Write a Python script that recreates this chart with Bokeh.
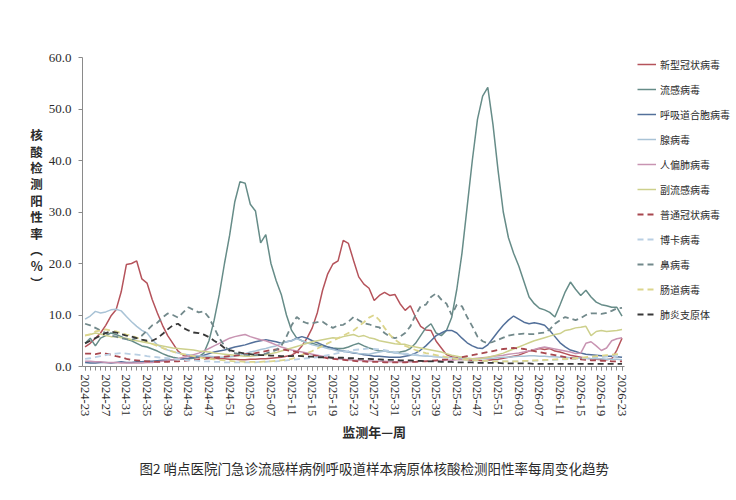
import math
from bokeh.plotting import figure
from bokeh.models import (Range1d, FixedTicker, NumeralTickFormatter, Legend, LegendItem,
                          LinearAxis)
from bokeh.embed import file_html
from bokeh.resources import INLINE

# ---------------- data ----------------
TICK_LABELS = ["2024-23", "2024-27", "2024-31", "2024-35", "2024-39", "2024-43", "2024-47",
               "2024-51", "2025-03", "2025-07", "2025-11", "2025-15", "2025-19", "2025-23",
               "2025-27", "2025-31", "2025-35", "2025-39", "2025-43", "2025-47", "2025-51",
               "2026-03", "2026-07", "2026-11", "2026-15", "2026-19", "2026-23"]

SERIES_NAMES = ["新型冠状病毒", "流感病毒", "呼吸道合胞病毒", "腺病毒", "人偏肺病毒", "副流感病毒",
                "普通冠状病毒", "博卡病毒", "鼻病毒", "肠道病毒", "肺炎支原体"]

COVID = [3.8, 4.5, 5.5, 6.5, 8.0, 9.8, 11.0, 14.5, 19.8, 20.0,
         20.5, 17.0, 16.2, 13.0, 10.4, 8.0, 6.0, 4.5, 3.0, 2.2,
         2.0, 1.9, 1.8, 1.8, 1.7, 1.6, 1.5, 1.5, 1.4, 1.4,
         1.3, 1.3, 1.4, 1.4, 1.5, 1.5, 1.6, 1.7, 1.8, 2.0,
         2.2, 2.8, 4.0, 5.5, 7.5, 10.5, 14.8, 18.0, 19.9, 20.5,
         24.5, 23.9, 20.6, 17.4, 16.0, 15.2, 12.8, 13.8, 14.4, 13.8,
         14.0, 12.2, 10.9, 11.8, 9.6, 7.8, 7.1, 7.0, 4.9, 3.6,
         2.3, 1.9, 1.7, 1.5, 1.3, 1.2, 1.2, 1.1, 1.2, 1.3,
         1.4, 1.6, 1.8, 2.0, 2.2, 2.6, 3.0, 3.2, 3.5, 3.3,
         3.5, 3.0, 2.8, 2.5, 2.2, 2.0, 1.8, 1.6, 1.5, 1.4,
         1.3, 1.3, 1.5, 3.2, 5.5]

FLU = [4.5, 5.5, 4.0, 5.5, 6.0, 6.5, 6.2, 5.8, 5.3, 5.0,
       4.5, 4.0, 3.8, 3.4, 3.0, 2.5, 2.1, 1.8, 1.6, 1.5,
       1.5, 1.6, 1.9, 2.6, 5.0, 9.0, 14.0, 20.0, 25.5, 32.0,
       35.9, 35.6, 31.5, 30.2, 24.0, 25.6, 20.0, 16.7, 14.0, 10.0,
       7.0, 5.5, 5.0, 4.6, 4.5, 4.2, 4.0, 3.8, 3.6, 3.5,
       3.5, 3.8, 4.2, 4.5, 4.0, 3.6, 3.3, 3.0, 3.0, 2.8,
       2.7, 2.8, 3.0, 3.5, 4.5, 6.0, 7.5, 8.3, 6.5, 6.0,
       7.0, 9.5, 15.0, 22.0, 31.0, 40.0, 48.0, 52.5, 54.2, 47.0,
       38.0, 30.0, 25.0, 22.0, 19.5, 16.5, 13.5, 12.2, 11.3, 11.0,
       10.5, 9.6, 12.0, 14.5, 16.4, 15.0, 13.8, 14.8, 13.5, 12.5,
       12.0, 11.8, 11.5, 11.5, 9.8]

RSV = [0.8, 0.7, 0.7, 0.8, 0.8, 0.7, 0.8, 0.9, 0.8, 0.8,
       0.9, 0.9, 1.0, 1.0, 1.1, 1.2, 1.2, 1.3, 1.4, 1.5,
       1.6, 1.8, 2.0, 2.2, 2.5, 2.8, 3.0, 3.2, 3.5, 3.8,
       4.0, 4.2, 4.5, 4.8, 5.0, 5.2, 5.0, 4.8, 4.5, 4.8,
       5.0, 5.5, 5.8, 5.5, 5.0, 4.6, 4.2, 3.8, 3.5, 3.2,
       3.0, 2.8, 2.6, 2.5, 2.3, 2.2, 2.0, 2.0, 1.9, 1.8,
       1.8, 1.8, 2.0, 2.2, 2.6, 3.2, 4.0, 5.0, 6.0, 6.5,
       7.0, 7.0, 6.5, 5.5, 4.6, 4.0, 3.6, 3.5, 4.2, 5.5,
       6.8, 8.0, 9.0, 9.8, 9.2, 8.6, 8.3, 8.5, 8.3, 8.0,
       7.0, 5.8, 4.6, 3.8, 3.2, 2.9, 2.6, 2.4, 2.3, 2.2,
       2.1, 2.0, 2.0, 1.9, 1.8]

ADENO = [9.2, 9.8, 10.7, 10.4, 10.6, 11.0, 11.1, 10.8, 9.7, 8.7,
         7.8, 7.0, 6.5, 5.2, 4.2, 3.6, 3.2, 2.9, 2.6, 2.4,
         2.3, 2.2, 2.1, 2.0, 2.0, 1.9, 1.8, 1.8, 1.9, 2.0,
         2.2, 2.5, 2.8, 3.0, 3.3, 3.5, 3.8, 4.0, 4.5, 4.8,
         5.0, 5.4, 5.0, 4.6, 4.2, 4.0, 3.8, 3.5, 3.3, 3.0,
         3.0, 2.8, 2.7, 2.5, 2.5, 2.4, 2.6, 2.8, 3.0, 2.8,
         2.6, 2.5, 2.4, 2.3, 2.2, 2.1, 2.0, 2.0, 1.9, 1.8,
         1.8, 1.7, 1.7, 1.6, 1.6, 1.5, 1.5, 1.5, 1.6, 1.6,
         1.7, 1.8, 1.8, 1.9, 2.0, 2.0, 2.1, 2.1, 2.0, 2.0,
         1.9, 1.9, 1.8, 1.8, 1.7, 1.7, 1.6, 1.6, 1.5, 1.5,
         1.5, 1.4, 1.4, 1.4, 1.3]

HMPV = [1.0, 1.0, 0.9, 0.9, 0.8, 0.8, 0.8, 0.7, 0.7, 0.7,
        0.7, 0.7, 0.8, 0.8, 0.9, 1.0, 1.1, 1.3, 1.5, 1.8,
        2.0, 2.3, 2.6, 3.0, 3.5, 4.0, 4.5, 5.0, 5.5, 5.8,
        6.0, 6.2, 5.8, 5.5, 5.2, 5.0, 4.6, 4.2, 3.8, 3.5,
        3.2, 3.0, 2.8, 2.6, 2.4, 2.2, 2.0, 1.8, 1.6, 1.5,
        1.4, 1.3, 1.2, 1.2, 1.1, 1.1, 1.0, 1.0, 1.0, 0.9,
        0.9, 0.9, 0.9, 0.9, 0.9, 1.0, 1.0, 1.0, 1.1, 1.1,
        1.2, 1.2, 1.3, 1.3, 1.4, 1.5, 1.6, 1.7, 1.8, 2.0,
        2.1, 2.2, 2.4, 2.5, 2.6, 2.8, 3.0, 3.3, 3.6, 3.8,
        3.6, 3.4, 3.2, 3.0, 2.8, 2.5, 2.6, 4.5, 4.8, 4.0,
        3.1, 3.6, 5.0, 5.4, 5.6]

PARAFLU = [6.0, 6.2, 6.5, 6.3, 6.0, 5.8, 5.8, 5.6, 5.5, 5.2,
           5.0, 4.8, 4.6, 4.4, 4.2, 4.0, 3.8, 3.6, 3.5, 3.4,
           3.3, 3.2, 3.0, 2.9, 2.8, 2.6, 2.5, 2.4, 2.3, 2.2,
           2.1, 2.0, 2.0, 2.1, 2.2, 2.3, 2.5, 2.7, 3.0, 3.3,
           3.6, 3.9, 4.2, 4.5, 4.8, 5.0, 5.2, 5.4, 5.6, 5.5,
           5.8, 6.0, 6.2, 5.8, 6.0, 5.6, 5.4, 5.0, 4.8, 4.6,
           4.4, 4.3, 4.3, 4.0, 3.8, 3.6, 3.4, 3.2, 3.0, 2.8,
           2.5, 2.2, 2.0, 1.8, 1.6, 1.5, 1.5, 1.6, 1.8, 2.0,
           2.3, 2.6, 3.0, 3.4, 3.8, 4.2, 4.6, 5.0, 5.3, 5.6,
           5.9, 6.2, 6.4, 7.0, 7.2, 7.5, 7.6, 7.8, 6.0, 6.8,
           7.0, 6.8, 6.9, 7.0, 7.2]

HCOV = [2.5, 2.5, 2.4, 2.6, 2.5, 2.3, 2.0, 1.8, 1.5, 1.3,
        1.2, 1.1, 1.0, 1.0, 0.9, 0.9, 0.9, 1.0, 1.0, 1.1,
        1.2, 1.3, 1.4, 1.5, 1.6, 1.7, 1.8, 1.9, 2.0, 2.1,
        2.2, 2.4, 2.5, 2.6, 2.8, 3.0, 3.2, 3.3, 3.3, 3.2,
        3.0, 2.8, 2.6, 2.4, 2.2, 2.0, 1.8, 1.6, 1.5, 1.4,
        1.3, 1.2, 1.1, 1.0, 1.0, 0.9, 0.9, 0.9, 0.8, 0.8,
        0.8, 0.8, 0.8, 0.9, 0.9, 1.0, 1.0, 1.1, 1.2, 1.3,
        1.4, 1.5, 1.6, 1.8, 2.0, 2.2, 2.4, 2.6, 2.8, 3.0,
        3.2, 3.4, 3.5, 3.6, 3.5, 3.4, 3.2, 3.0, 2.8, 2.6,
        2.4, 2.2, 2.0, 1.8, 1.6, 1.5, 1.4, 1.3, 1.2, 1.2,
        1.1, 1.1, 1.0, 1.0, 1.0]

BOCA = [1.5, 1.6, 1.8, 2.0, 2.2, 2.4, 2.5, 2.6, 2.5, 2.4,
        2.3, 2.2, 2.0, 1.9, 1.8, 1.7, 1.6, 1.5, 1.4, 1.3,
        1.2, 1.2, 1.1, 1.0, 1.0, 0.9, 0.9, 0.8, 0.8, 0.8,
        0.8, 0.8, 0.8, 0.8, 0.9, 0.9, 1.0, 1.0, 1.1, 1.2,
        1.3, 1.4, 1.5, 1.6, 1.7, 1.8, 2.0, 2.2, 2.4, 2.6,
        2.8, 3.0, 3.2, 3.3, 3.4, 3.5, 3.4, 3.3, 3.2, 3.0,
        2.8, 2.6, 2.5, 2.4, 2.3, 2.2, 2.1, 2.0, 1.9, 1.8,
        1.7, 1.6, 1.5, 1.4, 1.3, 1.2, 1.2, 1.1, 1.1, 1.0,
        1.0, 1.0, 1.0, 1.0, 1.0, 1.0, 1.1, 1.1, 1.2, 1.2,
        1.3, 1.3, 1.4, 1.4, 1.5, 1.5, 1.6, 1.6, 1.7, 1.8,
        1.8, 1.9, 2.0, 2.0, 2.1]

RHINO = [8.3, 8.0, 7.5, 7.0, 6.5, 6.0, 5.8, 5.5, 5.3, 5.2,
         5.5, 6.0, 7.0, 8.0, 8.5, 9.5, 10.3, 10.0, 9.5, 10.5,
         11.5, 11.0, 10.5, 10.7, 9.5, 7.5, 5.5, 4.0, 3.0, 2.6,
         2.4, 2.3, 2.2, 2.2, 2.3, 2.5, 2.8, 3.2, 4.0, 5.8,
         8.0, 9.6, 8.8, 8.4, 8.4, 8.6, 8.7, 8.0, 7.5, 8.0,
         8.1, 8.7, 9.6, 9.0, 8.4, 8.2, 7.8, 7.6, 6.5, 5.8,
         5.5, 5.8, 6.5, 7.8, 10.0, 11.7, 12.0, 13.5, 14.2, 13.0,
         12.2, 10.0, 12.0, 11.7, 9.6, 7.8, 5.8, 4.9, 4.5, 4.8,
         5.2, 5.6, 6.0, 6.2, 6.3, 6.4, 6.3, 6.3, 6.5, 6.6,
         7.2, 8.3, 9.0, 9.6, 9.3, 9.0, 9.4, 10.0, 10.3, 10.3,
         10.2, 10.4, 10.8, 11.3, 11.4]

ENTERO = [6.0, 6.3, 6.8, 7.0, 7.2, 7.0, 6.8, 6.5, 6.2, 6.0,
          5.6, 5.2, 4.8, 4.4, 4.0, 3.6, 3.2, 2.9, 2.6, 2.4,
          2.2, 2.0, 1.8, 1.6, 1.5, 1.4, 1.3, 1.2, 1.1, 1.0,
          1.0, 0.9, 0.9, 0.9, 0.9, 1.0, 1.0, 1.1, 1.2, 1.3,
          1.5, 1.8, 2.2, 2.6, 3.0, 3.5, 4.0, 4.5, 5.0, 5.5,
          6.0, 6.5, 7.0, 7.8, 8.6, 9.5, 10.0, 9.0, 7.5, 6.2,
          5.2, 4.5, 4.0, 3.6, 3.2, 2.9, 2.6, 2.4, 2.2, 2.0,
          1.8, 1.6, 1.5, 1.4, 1.3, 1.2, 1.2, 1.1, 1.1, 1.0,
          1.0, 1.0, 1.0, 1.0, 1.0, 1.1, 1.1, 1.2, 1.2, 1.3,
          1.3, 1.4, 1.4, 1.5, 1.5, 1.6, 1.7, 1.8, 1.9, 2.0,
          2.1, 2.2, 2.3, 2.4, 2.5]

MYCO = [4.5, 5.0, 5.5, 6.0, 6.5, 6.8, 6.6, 6.3, 6.0, 5.8,
        5.5, 5.2, 5.0, 5.0, 5.5, 6.3, 7.2, 8.0, 8.3, 7.5,
        7.0, 6.6, 6.5, 6.2, 5.7, 5.0, 4.4, 3.6, 3.2, 2.9,
        2.7, 2.5, 2.4, 2.3, 2.2, 2.2, 2.1, 2.1, 2.0, 2.0,
        2.0, 2.1, 2.0, 1.9, 1.9, 1.8, 1.8, 1.8, 1.7, 1.7,
        1.7, 1.6, 1.6, 1.5, 1.5, 1.5, 1.4, 1.4, 1.3, 1.3,
        1.3, 1.2, 1.2, 1.2, 1.1, 1.1, 1.0, 1.0, 1.0, 0.9,
        0.9, 0.9, 0.8, 0.8, 0.8, 0.8, 0.7, 0.7, 0.7, 0.7,
        0.7, 0.6, 0.6, 0.6, 0.6, 0.6, 0.6, 0.5, 0.5, 0.5,
        0.5, 0.5, 0.5, 0.5, 0.5, 0.5, 0.5, 0.5, 0.5, 0.5,
        0.5, 0.5, 0.5, 0.5, 0.5]

SERIES_VALUES = [COVID, FLU, RSV, ADENO, HMPV, PARAFLU, HCOV, BOCA, RHINO, ENTERO, MYCO]
Y_TICKS = [0, 10, 20, 30, 40, 50, 60]
Y_TITLE_CHARS = ["核", "酸", "检", "测", "阳", "性", "率", "︵", "%", "︶"]
X_TITLE = "监测年—周"
CAPTION = "图2 哨点医院门急诊流感样病例呼吸道样本病原体核酸检测阳性率每周变化趋势"

# ---------------- styles / layout ----------------
COLORS = ["#b5535b", "#668c88", "#53709a", "#a9c3d6", "#c894b2", "#cdd08c",
          "#a8474e", "#b9cfe3", "#72898b", "#dcd58c", "#383838"]
DASHES = ["solid"] * 6 + ["6 4"] * 5
WIDTHS = [1.5] * 6 + [1.8] * 5

CN = "Noto Sans CJK SC"
SERIF = "Liberation Serif"
TXT = "#2b2b2b"
AX = "#8a8a8a"
TEXT_ANCHOR = 56   # week index under which the x-title and caption are centred

W, H = 736, 500
LEFT, TOP, BOTTOM = 82, 50, 134
PX_PER_WEEK = 5.163
PX_PER_UNIT = 5.15
Y_MAX = 60

n_weeks = len(COVID)
x = list(range(n_weeks))

frame_w = W - LEFT
x_end = -0.5 + frame_w / PX_PER_WEEK          # frame extends under the legend
y_end = Y_MAX + (366 - 309 - TOP) / PX_PER_UNIT  # a little headroom above 60 for the legend

p = figure(width=W, height=H, output_backend="svg", toolbar_location=None,
           x_range=Range1d(-0.5, x_end), y_range=Range1d(0, y_end),
           min_border_left=LEFT, min_border_right=0, min_border_top=TOP,
           min_border_bottom=BOTTOM)
p.title.visible = False
p.outline_line_color = None
p.xgrid.visible = False
p.ygrid.visible = False
p.background_fill_color = "white"
p.border_fill_color = "white"

renderers = []
for vals, col, dash, w in zip(SERIES_VALUES, COLORS, DASHES, WIDTHS):
    r = p.line(x, vals, line_color=col, line_width=w, line_dash=dash)
    renderers.append(r)

# x axis
xa = p.xaxis[0]
xa.bounds = (-0.5, n_weeks - 0.5)
xa.ticker = FixedTicker(ticks=list(range(0, n_weeks, 4)), minor_ticks=x)
xa.major_label_overrides = {i * 4: lab for i, lab in enumerate(TICK_LABELS)}
xa.major_label_orientation = -math.pi / 2
xa.major_label_text_font = SERIF
xa.major_label_text_font_size = "12.5px"
xa.major_label_text_color = TXT
xa.axis_line_color = AX
xa.major_tick_line_color = AX
xa.minor_tick_line_color = AX
xa.major_tick_out = 4
xa.major_tick_in = 0
xa.minor_tick_out = 4
xa.minor_tick_in = 0
xa.major_label_standoff = 4


def text_axis(text, standoff, bold, size):
    ax = LinearAxis(ticker=FixedTicker(ticks=[TEXT_ANCHOR], minor_ticks=[]),
                    major_label_overrides={TEXT_ANCHOR: text},
                    axis_line_color=None, major_tick_line_color=None,
                    minor_tick_line_color=None, major_tick_out=0, major_tick_in=0,
                    major_label_standoff=standoff, major_label_text_font=CN,
                    major_label_text_font_size=size,
                    major_label_text_font_style="bold" if bold else "normal",
                    major_label_text_color=TXT)
    p.add_layout(ax, "below")
    return ax


text_axis(X_TITLE, 2, True, "13px")
text_axis(CAPTION, 14, False, "13.5px")

# y axis
ya = p.yaxis[0]
ya.bounds = (0, Y_MAX)
ya.ticker = FixedTicker(ticks=Y_TICKS, minor_ticks=[])
ya.formatter = NumeralTickFormatter(format="0.0")
ya.major_label_text_font = SERIF
ya.major_label_text_font_size = "13px"
ya.major_label_text_color = TXT
ya.axis_line_color = AX
ya.major_tick_line_color = AX
ya.major_tick_out = 4
ya.major_tick_in = 0
ya.major_label_standoff = 7
ya.axis_label = "\n".join(Y_TITLE_CHARS)
ya.axis_label_orientation = "horizontal"
ya.axis_label_text_font = CN
ya.axis_label_text_font_size = "12.5px"
ya.axis_label_text_font_style = "bold"
ya.axis_label_text_color = TXT
ya.axis_label_text_line_height = 0.86
ya.axis_label_standoff = 3

# legend, inside the (extended) frame to the right of the data
items = [LegendItem(label=name, renderers=[r]) for name, r in zip(SERIES_NAMES, renderers)]
legend = Legend(items=items, location=(637 - LEFT, 42), orientation="vertical",
                glyph_width=19, glyph_height=20, label_height=20, label_standoff=4,
                spacing=5, padding=0, margin=0, border_line_color=None,
                background_fill_alpha=0, label_text_font=CN, label_text_font_size="10px",
                label_text_color=TXT)
p.add_layout(legend, "center")

open("out.html", "w").write(file_html(p, INLINE))
